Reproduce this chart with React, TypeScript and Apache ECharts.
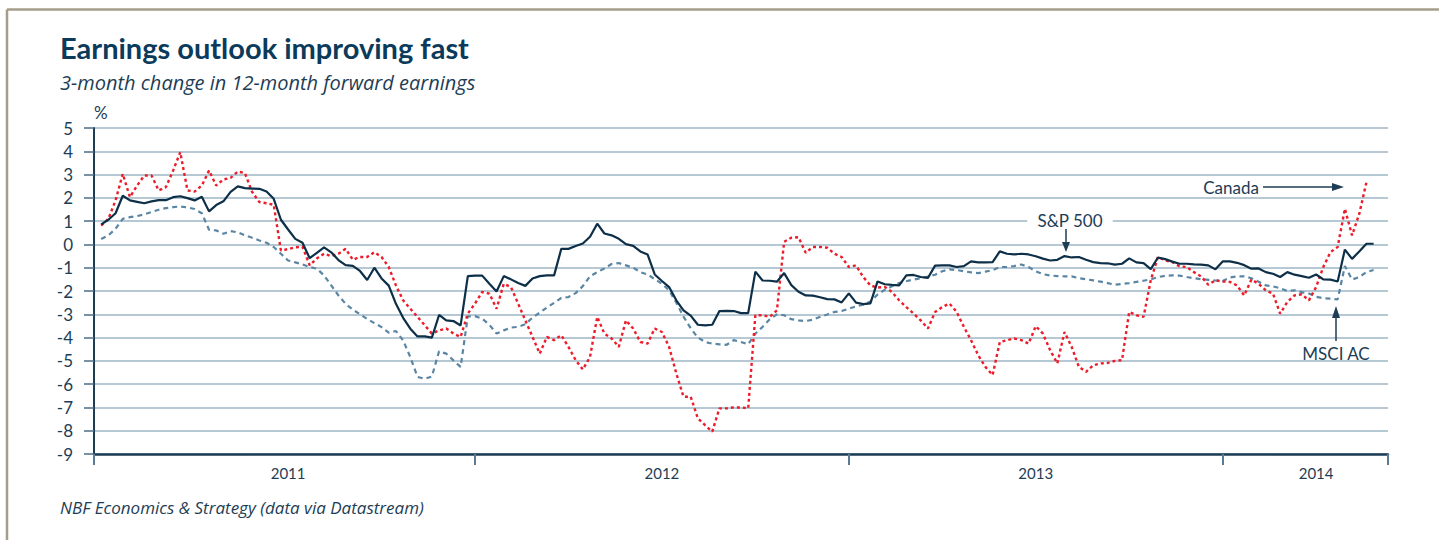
import React, { useEffect, useRef } from "react";
import * as echarts from "echarts";

// Weekly observation dates (Fridays), axis runs from the week of 2010-12-24 to 2014-06-06
const startDate = "2010-12-24";
const weekCount = 181;
const yearTickDates = ["2010-12-24", "2011-12-30", "2012-12-28", "2013-12-27", "2014-06-06"];
const yearLabelDates = ["2011-07-01", "2012-06-29", "2013-06-28", "2014-03-28"];
const yTicks = [5, 4, 3, 2, 1, 0, -1, -2, -3, -4, -5, -6, -7, -8, -9];

// 3-month change in 12-month forward earnings, %, weekly from 2010-12-31
const sp500 = [
  0.86, 1.06, 1.34, 2.09, 1.89, 1.83, 1.77, 1.85, 1.9, 1.9,
  2.03, 2.07, 1.99, 1.89, 2.05, 1.42, 1.69, 1.85, 2.26, 2.49,
  2.42, 2.4, 2.39, 2.27, 1.96, 1.06, 0.64, 0.24, 0.07, -0.59,
  -0.36, -0.13, -0.34, -0.67, -0.89, -0.92, -1.14, -1.53, -1.0, -1.46,
  -1.77, -2.55, -3.15, -3.62, -3.95, -3.95, -4.0, -3.03, -3.26, -3.29,
  -3.48, -1.36, -1.34, -1.34, -1.69, -2.02, -1.36, -1.5, -1.66, -1.78,
  -1.46, -1.36, -1.33, -1.33, -0.19, -0.19, -0.07, 0.04, 0.33, 0.89,
  0.47, 0.39, 0.24, 0.01, -0.06, -0.3, -0.43, -1.29, -1.57, -1.83,
  -2.4, -2.83, -3.06, -3.45, -3.48, -3.45, -2.86, -2.85, -2.86, -2.95,
  -2.95, -1.17, -1.55, -1.56, -1.6, -1.23, -1.75, -2.03, -2.19, -2.2,
  -2.27, -2.35, -2.36, -2.49, -2.1, -2.5, -2.56, -2.53, -1.59, -1.71,
  -1.74, -1.76, -1.33, -1.31, -1.4, -1.44, -0.91, -0.9, -0.9, -0.97,
  -0.93, -0.73, -0.77, -0.77, -0.76, -0.3, -0.4, -0.43, -0.4, -0.43,
  -0.51, -0.61, -0.69, -0.66, -0.5, -0.56, -0.54, -0.66, -0.76, -0.8,
  -0.81, -0.87, -0.83, -0.6, -0.77, -0.8, -1.06, -0.56, -0.63, -0.74,
  -0.83, -0.83, -0.86, -0.87, -0.9, -1.07, -0.73, -0.73, -0.79, -0.89,
  -1.04, -1.03, -1.19, -1.26, -1.4, -1.19, -1.3, -1.36, -1.43, -1.29,
  -1.5, -1.51, -1.59, -0.22, -0.62, -0.3, 0.03, 0.03,
];

const msciAc = [
  0.23, 0.39, 0.67, 1.1, 1.17, 1.22, 1.29, 1.39, 1.49, 1.56,
  1.6, 1.63, 1.59, 1.52, 1.34, 0.63, 0.6, 0.46, 0.57, 0.52,
  0.39, 0.29, 0.17, 0.07, -0.11, -0.4, -0.69, -0.77, -0.86, -0.97,
  -1.04, -1.33, -1.76, -2.19, -2.55, -2.8, -3.0, -3.2, -3.38, -3.55,
  -3.79, -3.72, -4.12, -4.84, -5.69, -5.77, -5.67, -4.59, -4.69, -4.98,
  -5.26, -3.09, -3.08, -3.19, -3.45, -3.83, -3.69, -3.57, -3.54, -3.43,
  -3.14, -2.93, -2.71, -2.51, -2.3, -2.26, -2.09, -1.79, -1.37, -1.19,
  -1.03, -0.84, -0.8, -0.9, -1.0, -1.19, -1.29, -1.49, -1.69, -1.97,
  -2.5, -3.1, -3.6, -4.0, -4.19, -4.26, -4.29, -4.31, -4.11, -4.19,
  -4.29, -3.83, -3.54, -3.21, -3.0, -3.04, -3.21, -3.26, -3.29, -3.23,
  -3.11, -3.01, -2.9, -2.86, -2.76, -2.66, -2.59, -2.45, -2.15, -1.95,
  -1.8, -1.66, -1.58, -1.51, -1.45, -1.38, -1.3, -1.15, -1.07, -1.1,
  -1.15, -1.2, -1.23, -1.17, -1.1, -0.97, -0.97, -0.93, -0.86, -0.97,
  -1.15, -1.28, -1.33, -1.36, -1.37, -1.37, -1.45, -1.5, -1.54, -1.6,
  -1.66, -1.73, -1.7, -1.66, -1.61, -1.56, -1.5, -1.4, -1.35, -1.33,
  -1.34, -1.4, -1.45, -1.49, -1.52, -1.55, -1.57, -1.42, -1.37, -1.37,
  -1.45, -1.6, -1.76, -1.8, -1.88, -2.0, -1.97, -2.05, -2.11, -2.25,
  -2.31, -2.33, -2.36, -0.93, -1.51, -1.4, -1.19, -1.1,
];

const canada = [
  0.81, 1.1, 1.89, 3.03, 2.03, 2.53, 2.96, 2.96, 2.32, 2.46,
  3.17, 3.96, 2.32, 2.27, 2.53, 3.17, 2.53, 2.79, 2.86, 3.13,
  3.06, 2.25, 1.82, 1.77, 1.7, -0.26, -0.2, -0.12, -0.1, -0.9,
  -0.6, -0.4, -0.5, -0.4, -0.19, -0.66, -0.54, -0.54, -0.33, -0.54,
  -0.97, -1.76, -2.4, -2.76, -3.11, -3.47, -3.83, -3.69, -3.61, -3.83,
  -3.97, -2.97, -2.54, -2.04, -2.11, -2.76, -1.69, -1.83, -2.54, -3.26,
  -3.97, -4.69, -3.97, -4.11, -3.9, -4.4, -4.97, -5.37, -4.83, -3.11,
  -3.83, -4.04, -4.4, -3.26, -3.61, -4.19, -4.26, -3.61, -3.76, -4.4,
  -5.54, -6.54, -6.54, -7.47, -7.76, -8.04, -7.04, -7.04, -7.0, -7.0,
  -7.04, -3.04, -3.04, -3.11, -2.83, 0.11, 0.29, 0.31, -0.36, -0.11,
  -0.11, -0.14, -0.4, -0.54, -0.97, -0.9, -1.4, -1.76, -1.85, -1.83,
  -2.04, -2.4, -2.69, -2.97, -3.26, -3.61, -2.9, -2.69, -2.54, -2.9,
  -3.54, -4.11, -4.76, -5.26, -5.61, -4.19, -4.11, -4.04, -4.11, -4.26,
  -3.51, -3.83, -4.54, -5.11, -3.76, -4.4, -5.26, -5.47, -5.19, -5.11,
  -5.09, -5.0, -4.97, -2.9, -3.04, -3.11, -1.54, -0.54, -0.69, -0.76,
  -0.94, -0.97, -1.19, -1.37, -1.73, -1.54, -1.59, -1.61, -1.76, -2.19,
  -1.51, -1.69, -1.97, -2.11, -2.97, -2.47, -2.19, -2.14, -2.4, -1.83,
  -0.97, -0.33, -0.11, 1.53, 0.39, 1.31, 2.67,
];

const FONT = "Lato, 'Open Sans', sans-serif";
const ITALIC_FONT = "'Open Sans', Lato, sans-serif";
const NAVY = "#1d3d55";

function buildCategories(): string[] {
  const [y, m, d] = startDate.split("-").map(Number);
  const t0 = Date.UTC(y, m - 1, d);
  const out: string[] = [];
  for (let i = 0; i < weekCount; i++) {
    out.push(new Date(t0 + i * 7 * 86400000).toISOString().slice(0, 10));
  }
  return out;
}

export default function App() {
  const ref = useRef<HTMLDivElement>(null);

  useEffect(() => {
    if (!ref.current) return;
    const chart = echarts.init(ref.current, undefined, { renderer: "svg" });
    const categories = buildCategories();
    const pad = (arr: number[]) => [null, ...arr];

    const option: any = {
      animation: false,
      backgroundColor: "#ffffff",
      textStyle: { fontFamily: FONT },
      grid: { left: 94, right: 51, top: 128, bottom: 86, containLabel: false },
      xAxis: {
        type: "category",
        data: categories,
        boundaryGap: false,
        axisLine: { show: true, onZero: false, lineStyle: { color: NAVY, width: 2.5 } },
        axisTick: {
          show: true,
          length: 11,
          interval: (i: number, v: string) => yearTickDates.includes(v),
          lineStyle: { color: "#5a7b93", width: 2 },
        },
        axisLabel: {
          interval: (i: number, v: string) => yearLabelDates.includes(v),
          formatter: (v: string) => v.slice(0, 4),
          color: NAVY,
          fontSize: 15,
          fontFamily: FONT,
          margin: 11,
        },
        splitLine: { show: false },
      },
      yAxis: {
        type: "value",
        min: -9,
        max: 5,
        interval: 1,
        name: "%",
        nameLocation: "end",
        nameGap: 7,
        nameTextStyle: { color: NAVY, fontSize: 17, fontFamily: FONT, align: "left", verticalAlign: "bottom" },
        axisLine: { show: true, lineStyle: { color: NAVY, width: 2 } },
        axisTick: { show: true, length: 10, lineStyle: { color: "#4d6d85", width: 1.5 } },
        axisLabel: {
          color: NAVY,
          fontSize: 17,
          fontFamily: FONT,
          margin: 21,
          formatter: (v: number) => (yTicks.includes(v) ? String(v) : ""),
        },
        splitLine: { show: true, lineStyle: { color: "#9db6c6", width: 1.5 } },
      },
      series: [
        {
          name: "MSCI AC",
          type: "line",
          data: pad(msciAc),
          symbol: "none",
          lineStyle: { color: "#5b86a3", width: 2.2, type: [5, 4] },
          z: 2,
        },
        {
          name: "Canada",
          type: "line",
          data: pad(canada),
          symbol: "none",
          lineStyle: { color: "#ec1c2a", width: 2.4, type: [3, 3] },
          z: 3,
        },
        {
          name: "S&P 500",
          type: "line",
          data: pad(sp500),
          symbol: "none",
          lineStyle: { color: "#0d2f48", width: 2.2 },
          z: 4,
        },
      ],
      graphic: [
        { type: "line", shape: { x1: 7, y1: 9.5, x2: 1439, y2: 9.5 }, style: { stroke: "#a39d89", lineWidth: 2.5 } },
        { type: "line", shape: { x1: 7, y1: 9.5, x2: 7, y2: 540 }, style: { stroke: "#a39d89", lineWidth: 2.5 } },
        {
          type: "text",
          x: 60,
          y: 47,
          style: { text: "Earnings outlook improving fast", fontSize: 29, fontWeight: "bold", fontFamily: FONT, fill: "#0b3a5a", align: "left", verticalAlign: "middle" },
        },
        {
          type: "text",
          x: 60,
          y: 82,
          style: { text: "3-month change in 12-month forward earnings", fontSize: 20, fontStyle: "italic", fontFamily: ITALIC_FONT, fill: NAVY, align: "left", verticalAlign: "middle" },
        },
        {
          type: "text",
          x: 60,
          y: 507,
          style: { text: "NBF Economics & Strategy (data via Datastream)", fontSize: 17, fontStyle: "italic", fontFamily: ITALIC_FONT, fill: NAVY, align: "left", verticalAlign: "middle" },
        },
        // S&P 500 annotation
        {
          type: "text",
          x: 1070,
          y: 220,
          z: 10,
          style: { text: "S&P 500", fontSize: 17, fontFamily: FONT, fill: NAVY, align: "center", verticalAlign: "middle", backgroundColor: "#ffffff", padding: [2, 10] },
        },
        { type: "line", z: 10, shape: { x1: 1066, y1: 229, x2: 1066, y2: 244 }, style: { stroke: NAVY, lineWidth: 1.5 } },
        { type: "polygon", z: 10, shape: { points: [[1062, 242], [1070, 242], [1066, 252]] }, style: { fill: NAVY } },
        // Canada annotation
        {
          type: "text",
          x: 1231,
          y: 187,
          z: 10,
          style: { text: "Canada", fontSize: 17, fontFamily: FONT, fill: NAVY, align: "center", verticalAlign: "middle" },
        },
        { type: "line", z: 10, shape: { x1: 1263, y1: 187, x2: 1334, y2: 187 }, style: { stroke: NAVY, lineWidth: 1.5 } },
        { type: "polygon", z: 10, shape: { points: [[1332, 183], [1332, 191], [1344, 187]] }, style: { fill: NAVY } },
        // MSCI AC annotation
        {
          type: "text",
          x: 1336,
          y: 353,
          z: 10,
          style: { text: "MSCI AC", fontSize: 17, fontFamily: FONT, fill: NAVY, align: "center", verticalAlign: "middle" },
        },
        { type: "line", z: 10, shape: { x1: 1336, y1: 341, x2: 1336, y2: 316 }, style: { stroke: NAVY, lineWidth: 1.5 } },
        { type: "polygon", z: 10, shape: { points: [[1332, 318], [1340, 318], [1336, 306]] }, style: { fill: NAVY } },
      ],
    };

    chart.setOption(option);
    return () => chart.dispose();
  }, []);

  return (
    <div
      ref={ref}
      style={{ position: "absolute", left: 0, top: 0, width: 1439, height: 540, background: "#fff" }}
    />
  );
}
